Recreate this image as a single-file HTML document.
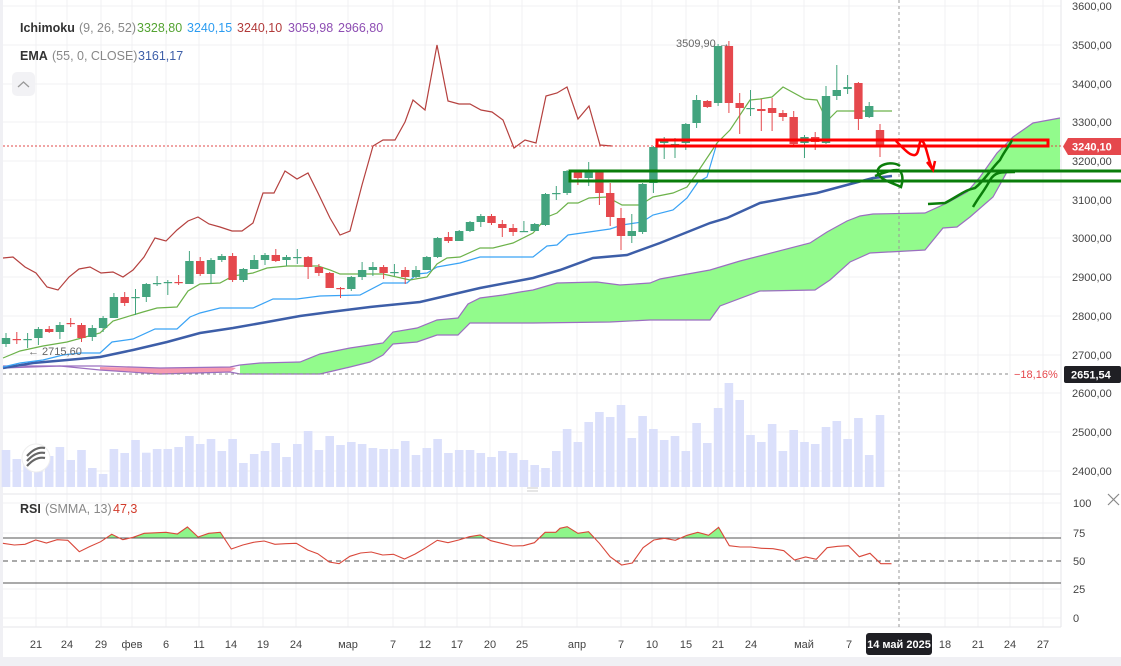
<!DOCTYPE html>
<html><head><meta charset="utf-8"><style>
html,body{margin:0;padding:0;background:#fff;width:1121px;height:666px;overflow:hidden;font-family:"Liberation Sans",sans-serif}
svg{display:block}
</style></head><body>
<svg id="c" width="1121" height="666" xmlns="http://www.w3.org/2000/svg" font-family="Liberation Sans, sans-serif"></svg>
<script>
const S=document.getElementById('c');let h='';
const add=s=>h+=s;
add('<rect x="0" y="0" width="1121" height="666" fill="#fff"/>');
add('<rect x="0" y="657" width="1121" height="9" fill="#f0f0f4"/>');
add('<rect x="0" y="0" width="3" height="657" fill="#f0f0f4"/>');
const py=[6,45,84,122,161,200,238,277,316,355,393,432,471];
py.forEach(y=>add(`<line x1="3" x2="1061" y1="${y}" y2="${y}" stroke="#f0f0f3"/>`));
[503,533,589,618].forEach(y=>add(`<line x1="3" x2="1061" y1="${y}" y2="${y}" stroke="#f0f0f3"/>`));
const dx=[36,67,101,132,166,199,231,263,296,348,393,425,457,490,522,577,621,652,686,718,751,804,849,945,978,1010,1043];
dx.forEach(x=>add(`<line x1="${x}" x2="${x}" y1="0" y2="627" stroke="#f0f0f3"/>`));
add('<line x1="3" x2="1061" y1="494" y2="494" stroke="#e6e6ea"/>');
add('<line x1="3" x2="1061" y1="627" y2="627" stroke="#e6e6ea"/>');
add('<line x1="1061" x2="1061" y1="0" y2="627" stroke="#e6e6ea"/>');
const v1=[[0,210],[28,237],[60,228],[90,225],[120,228],[150,201],[178,240],[210,210],[240,264],[272,282],[302,207],[333,219],[361,180],[392,218],[423,207],[453,207],[484,201],[515,168],[543,192],[574,177],[605,213],[636,177],[666,249],[697,222],[725,213],[756,189],[787,231],[818,192],[848,153],[879,210],[907,168],[938,195],[969,186],[1000,192],[1030,204],[1060,207],[1090,207],[1120,183],[1151,225],[1182,204],[1212,177],[1243,219],[1272,210],[1302,210],[1333,219],[1364,231],[1393,213],[1424,219],[1453,240],[1483,255],[1515,264],[1545,213]];
const v2=[147,186,126,96,111,75,174,108,147,180,168,213,129,189,84,9,60,165,186,132,213,150,186,192,141,123,177,114,225,105];
const X=i=>6+i*10.79;
let vols=v1.map(v=>v[1]).concat(v2);
vols.forEach((p,i)=>{const t=380+p/3;add(`<rect x="${(X(i)-4.3).toFixed(1)}" y="${t.toFixed(1)}" width="8.6" height="${(487-t).toFixed(1)}" fill="#dbe0fb"/>`)});
const A=[[240,365],[260,363],[300,362],[320,354],[350,348],[370,345],[383,343],[393,332],[417,328],[437,320],[458,318],[468,304],[480,298],[503,295],[520,292],[533,290],[557,283],[597,282],[620,285],[650,283],[660,279],[710,270],[740,261],[810,243],[827,232],[847,221],[860,216],[873,214],[925,213],[947,203],[967,192],[980,177],[997,153],[1013,137],[1033,123],[1060,118]];
const B=[[240,374],[320,374],[350,367],[370,362],[383,355],[393,344],[417,342],[437,335],[458,335],[470,323],[533,323],[610,322],[650,320],[710,320],[720,306],[760,291],[815,290],[830,280],[850,262],[870,253],[925,250],[943,228],[957,227],[970,217],[993,197],[1007,172],[1060,170]];
const pts=a=>a.map(p=>p.join(',')).join(' ');
add(`<polygon points="${pts(A)} ${pts(B.slice().reverse())}" fill="#92fb8c"/>`);
add('<polygon points="100,367 160,368 230,367 236,368 230,372 160,374 100,370" fill="#f59ab0"/>');
const A0=[[3,366],[100,366],[160,368],[230,367],[240,365]],B0=[[3,368],[60,366],[100,370],[160,374],[230,372],[240,374]];
add(`<polyline points="${pts(A0.concat(A))}" fill="none" stroke="#9b6fc0" stroke-width="1.2"/>`);
add(`<polyline points="${pts(B0.concat(B))}" fill="none" stroke="#9b6fc0" stroke-width="1.2"/>`);
const E=[[3,368],[33,363],[67,360],[100,357],[133,350],[167,342],[200,333],[233,328],[267,322],[300,316],[330,312],[370,307],[420,302],[480,288],[533,278],[560,270],[593,258],[627,255],[660,243],[710,223],[727,218],[760,203],[793,197],[817,193],[843,186],[873,178],[892,176]];
add(`<polyline points="${pts(E)}" fill="none" stroke="#3d5ea8" stroke-width="2.5"/>`);
const K=[[3,367],[20,363],[43,360],[63,355],[80,353],[100,353],[112,342],[133,339],[155,329],[177,329],[190,317],[200,313],[220,308],[253,308],[273,299],[297,299],[320,296],[360,295],[383,283],[407,283],[417,274],[427,273],[437,267],[460,263],[480,257],[533,257],[547,246],[557,245],[568,235],[610,229],[622,225],[642,222],[653,215],[673,210],[687,198],[698,182],[707,177],[717,143]];
add(`<polyline points="${pts(K)}" fill="none" stroke="#3aa3f5" stroke-width="1.2"/>`);
const T=[[3,358],[20,351],[43,346],[67,342],[100,333],[113,321],[143,312],[157,308],[177,307],[188,291],[200,284],[220,283],[233,276],[253,273],[267,268],[287,266],[318,266],[330,270],[340,274],[383,274],[410,280],[427,277],[437,264],[447,258],[460,257],[480,248],[493,248],[513,243],[533,233],[547,217],[557,213],[568,203],[578,203],[589,198],[607,197],[622,205],[640,205],[653,197],[673,193],[687,187],[697,173],[717,143],[730,130],[750,100],[760,99],[772,97],[783,87],[805,99],[817,100],[827,121],[837,111],[892,111]];
add(`<polyline points="${pts(T)}" fill="none" stroke="#6cb24a" stroke-width="1.2"/>`);
const C=[[3,258],[13,257],[25,267],[36,273],[47,287],[58,290],[69,277],[79,269],[90,267],[101,273],[113,272],[123,277],[133,270],[144,257],[155,238],[166,241],[177,230],[188,221],[198,217],[209,224],[220,227],[232,231],[242,231],[253,223],[263,193],[274,193],[285,171],[297,179],[308,173],[318,193],[330,218],[340,235],[350,231],[362,185],[373,146],[383,140],[395,140],[405,122],[413,100],[425,110],[437,45],[448,101],[459,104],[470,104],[481,110],[492,112],[503,120],[514,148],[525,140],[536,143],[546,96],[557,93],[567,87],[578,119],[589,106],[600,145],[612,146]];
add(`<polyline points="${pts(C)}" fill="none" stroke="#b5413f" stroke-width="1.2"/>`);
add('<line x1="3" x2="1061" y1="146" y2="146" stroke="#e04848" stroke-dasharray="2,2"/>');
add('<line x1="3" x2="1010" y1="374" y2="374" stroke="#888" stroke-dasharray="3,3"/>');
add('<line x1="899" x2="899" y1="0" y2="627" stroke="#999" stroke-dasharray="3,3"/>');
const K2=[[344,338,333,347],[339,340,332,344],[339.5,339,333,348],[338,329,327,345],[329,332,326,333],[332,325,322,339],[323,324,318,327],[325,338,323,342],[337,328,325,341],[328,318,316,332],[318,297,293,318],[297,303,292,306],[298,297,289,315],[297,284,283,302],[284,283,276,286],[282.5,282,280,295],[282,283,275,285],[284,261,251,284],[261,274,257,276],[274,260,258,284],[260,256,254,262],[256,280,253,282],[280,269,268,282],[269,260,255,268],[260,255,253,265],[255,261,249,262],[260,257,255,266],[258,257,249,264],[257,267,256,279],[267,273,264,276],[273,288,272,288],[288,289,287,298],[289,277,276,291],[277,270,262,280],[270,267,262,276],[267,273,265,279],[272.5,272,264,276],[270,277,267,284],[277,270,266,278],[270,257,256,270],[257,238,237,258],[237,241,232,243],[241,231,230,241],[231,222,221,232],[222,216,214,227],[216,223,214,225],[224,228,220,237],[228,232,224,236],[231.5,231,221,232],[231,224,223,231],[225,194,193,226],[193.5,193,186,200],[193,171,170,195],[172,178,170,185],[178,172,162,186],[172,193,170,205],[193,217,183,226],[218,236,208,250],[236,231,214,243],[232,184,183,234],[183,147,146,193],[143,141,137,159],[145,144,138,158],[143,124,123,150],[123,100,95,128],[101,107,100,108],[103,46,44,106],[46,103,41,113],[103,108,93,134],[108.5,108,90,116],[109,111,99,131],[108,113,98,131],[113,117,110,121],[117,144,111,145],[143,137,135,158],[137,142,132,150],[143,96,86,144],[96,90,65,100],[89,87,75,94],[83,119,82,130],[117,106,102,118],[130,145,124,157]];
K2.forEach((c,i)=>{const x=X(i);const g=c[1]<=c[0];const col=g?'#43a47e':'#e5484d';
const t=Math.min(c[0],c[1]),b=Math.max(c[0],c[1]);
add(`<line x1="${x.toFixed(1)}" x2="${x.toFixed(1)}" y1="${c[2]}" y2="${c[3]}" stroke="${col}" stroke-width="1"/>`);
add(`<rect x="${(x-4.2).toFixed(1)}" y="${t}" width="8.4" height="${Math.max(1.2,b-t)}" fill="${col}"/>`);});
add('<rect x="657" y="140" width="391" height="6" fill="none" stroke="#ff0000" stroke-width="3"/>');
add('<rect x="570" y="171" width="560" height="10" fill="none" stroke="#0a7d0a" stroke-width="3"/>');
add('<path d="M896,141 C905,150 910,156 915,155 C920,154 918,140 922,141 C926,143 928,160 932,168" fill="none" stroke="#ff0000" stroke-width="2.5"/>');
add('<path d="M927,162 L933,170 L935,161" fill="none" stroke="#ff0000" stroke-width="2.5"/>');
add('<path d="M900,166 C892,160 875,165 878,173 C880,180 893,183 901,187 C904,178 902,170 897,170 C890,170 880,174 875,176" fill="none" stroke="#0a7d0a" stroke-width="2.5"/>');
add('<path d="M928,204 L945,203 C960,195 965,190 975,188 C985,180 990,170 1000,160 C1005,150 1010,145 1012,140" fill="none" stroke="#0a7d0a" stroke-width="2.5"/>');
add('<path d="M973,207 C980,195 985,190 990,180 C995,172 1000,172 1015,172" fill="none" stroke="#0a7d0a" stroke-width="2.5"/>');
const pl=['3600,00','3500,00','3400,00','3300,00','3200,00','3100,00','3000,00','2900,00','2800,00','2700,00','2600,00','2500,00','2400,00'];
pl.forEach((t,i)=>add(`<text x="1072" y="${py[i]+4}" font-size="11" fill="#444">${t}</text>`));
add('<path d="M1068,138 L1121,138 L1121,155 L1068,155 L1063,146.5 Z" fill="#e5484d"/>');
add('<text x="1072" y="150.5" font-size="11" font-weight="bold" fill="#fff">3240,10</text>');
add('<rect x="1064" y="366" width="57" height="17" rx="2" fill="#1f1f24"/>');
add('<text x="1071" y="378.5" font-size="11" font-weight="bold" fill="#fff">2651,54</text>');
add('<text x="1014" y="378" font-size="11" fill="#e5484d">−18,16%</text>');
add('<text x="676" y="47" font-size="11" fill="#666">3509,90 →</text>');
add('<text x="28" y="355" font-size="11" fill="#666">← 2715,60</text>');
const L=(x,y,t,c,b)=>add(`<text x="${x}" y="${y}" font-size="12.5" fill="${c}"${b?' font-weight="bold"':''}>${t}</text>`);
L(20,32,'Ichimoku','#333',1);L(79,32,'(9, 26, 52)','#888');L(137,32,'3328,80','#53a331');L(187,32,'3240,15','#2c9cf0');L(237,32,'3240,10','#b13a3a');L(288,32,'3059,98','#8e4eb3');L(338,32,'2966,80','#8e4eb3');
L(20,60,'EMA','#333',1);L(52,60,'(55, 0, CLOSE)','#888');L(138,60,'3161,17','#3d5ea8');
add('<rect x="12" y="72" width="23" height="24" rx="5" fill="#f2f2f5"/><path d="M18,87 L23.5,82 L29,87" fill="none" stroke="#999" stroke-width="1.3"/>');
add('<circle cx="36" cy="458" r="14" fill="#fff" stroke="#eee"/><path d="M27,456 q9,-10 18,-8 M27,461 q9,-10 18,-8 M27,466 q9,-10 18,-8" fill="none" stroke="#666" stroke-width="2.2"/>');
L(20,513,'RSI','#333',1);L(45,513,'(SMMA, 13)','#888');L(113,513,'47,3','#d23b2b');
const r1=[[8,490],[40,495],[70,493],[100,480],[130,489],[160,479],[190,481],[222,515],[250,500],[282,485],[313,463],[344,479],[373,472],[404,460],[465,457],[497,462],[525,441],[555,471],[585,460],[617,457],[648,507],[680,495],[710,487],[740,483],[770,493],[800,491],[830,490],[862,510],[890,521],[922,546],[950,551],[980,529],[1010,519],[1040,516],[1072,525],[1102,523],[1133,537],[1163,522],[1193,503],[1225,481],[1255,488],[1285,480],[1315,470],[1345,465],[1375,482],[1405,490],[1436,498],[1466,497],[1497,488],[1527,457],[1557,457]].map(p=>[p[0]*0.357,380+p[1]/3]);
const r2=[[0,445],[20,440],[50,460],[80,455],[110,490],[140,530],[172,555],[202,549],[232,503],[262,480],[292,475],[322,481],[355,466],[385,457],[415,466],[443,442],[473,497],[503,501],[533,501],[563,505],[595,506],[625,512],[655,540],[686,531],[716,538],[746,503],[776,499],[806,497],[836,530],[866,520],[896,551],[926,551]].map(p=>[560+p[0]*0.358,380+p[1]/3]);
const R=r1.concat(r2).map(p=>[+p[0].toFixed(1),+p[1].toFixed(1)]);
add('<defs><clipPath id="ob"><rect x="0" y="480" width="1121" height="58"/></clipPath></defs>');
add(`<polygon clip-path="url(#ob)" points="${R[0][0]},538 ${pts(R)} ${R[R.length-1][0]},538" fill="#8ef58a"/>`);
add('<line x1="3" x2="1061" y1="538" y2="538" stroke="#555" stroke-width="1"/>');
add('<line x1="3" x2="1061" y1="561" y2="561" stroke="#555" stroke-dasharray="5,4"/>');
add('<line x1="3" x2="1061" y1="583" y2="583" stroke="#555" stroke-width="1"/>');
add(`<polyline points="${pts(R)}" fill="none" stroke="#d9483b" stroke-width="1.1"/>`);
[['100',507],['75',537],['50',565],['25',593],['0',622]].forEach(a=>add(`<text x="1073" y="${a[1]}" font-size="11" fill="#444">${a[0]}</text>`));
add('<path d="M1108,494 L1119,505 M1119,494 L1108,505" stroke="#888" stroke-width="1.2"/>');
add('<path d="M527,488 h11 M527,491 h11" stroke="#ccc"/>');
const dl=['21','24','29','фев','6','11','14','19','24','мар','7','12','17','20','25','апр','7','10','15','21','24','май','7','18','21','24','27'];
dl.forEach((t,i)=>add(`<text x="${dx[i]}" y="648" font-size="11" fill="#444" text-anchor="middle">${t}</text>`));
add('<rect x="866" y="633" width="66" height="22" rx="3" fill="#1f1f24"/>');
add('<text x="899" y="648" font-size="11" font-weight="bold" fill="#fff" text-anchor="middle">14 май 2025</text>');
S.innerHTML=h;
</script>
</body></html>
